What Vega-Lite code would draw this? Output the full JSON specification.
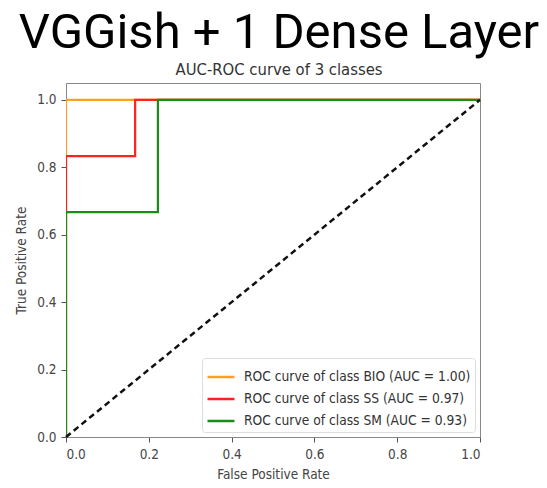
{
  "$schema": "https://vega.github.io/schema/vega-lite/v6.json",
  "width": 414,
  "height": 354,
  "autosize": {"type": "none"},
  "padding": {"left": 66, "top": 83, "right": 67, "bottom": 51},
  "background": "white",
  "title": {
    "text": "VGGish + 1 Dense Layer",
    "subtitle": "AUC-ROC curve of 3 classes",
    "anchor": "middle",
    "dx": 6,
    "font": "Roboto",
    "fontSize": 49,
    "fontWeight": "normal",
    "color": "#000000",
    "subtitleFont": "DejaVu Sans Condensed",
    "subtitleFontSize": 16.5,
    "subtitleColor": "#333333",
    "subtitlePadding": 4,
    "offset": 5
  },
  "config": {
    "view": {"stroke": "#888888", "strokeWidth": 1},
    "axis": {
      "grid": false,
      "domainColor": "#888888",
      "tickColor": "#555555",
      "tickSize": 5,
      "labelFont": "DejaVu Sans Condensed",
      "labelFontSize": 13.5,
      "labelColor": "#444444",
      "titleFont": "DejaVu Sans Condensed",
      "titleFontSize": 13.5,
      "titleFontWeight": "normal",
      "titleColor": "#444444",
      "labelPadding": 5
    },
    "legend": {
      "labelFont": "DejaVu Sans Condensed",
      "labelFontSize": 13.7,
      "labelColor": "#333333",
      "labelLimit": 0
    }
  },
  "data": {
    "values": [
      {"label": "ROC curve of class BIO (AUC = 1.00)", "fpr": 0, "tpr": 0, "i": 0},
      {"label": "ROC curve of class BIO (AUC = 1.00)", "fpr": 0, "tpr": 1, "i": 1},
      {"label": "ROC curve of class BIO (AUC = 1.00)", "fpr": 1, "tpr": 1, "i": 2},
      {"label": "ROC curve of class SS (AUC = 0.97)", "fpr": 0, "tpr": 0, "i": 0},
      {"label": "ROC curve of class SS (AUC = 0.97)", "fpr": 0, "tpr": 0.833, "i": 1},
      {"label": "ROC curve of class SS (AUC = 0.97)", "fpr": 0.167, "tpr": 0.833, "i": 2},
      {"label": "ROC curve of class SS (AUC = 0.97)", "fpr": 0.167, "tpr": 1, "i": 3},
      {"label": "ROC curve of class SS (AUC = 0.97)", "fpr": 1, "tpr": 1, "i": 4},
      {"label": "ROC curve of class SM (AUC = 0.93)", "fpr": 0, "tpr": 0, "i": 0},
      {"label": "ROC curve of class SM (AUC = 0.93)", "fpr": 0, "tpr": 0.667, "i": 1},
      {"label": "ROC curve of class SM (AUC = 0.93)", "fpr": 0.222, "tpr": 0.667, "i": 2},
      {"label": "ROC curve of class SM (AUC = 0.93)", "fpr": 0.222, "tpr": 1, "i": 3},
      {"label": "ROC curve of class SM (AUC = 0.93)", "fpr": 1, "tpr": 1, "i": 4}
    ]
  },
  "layer": [
    {
      "mark": {"type": "line", "strokeWidth": 2.2, "clip": true},
      "encoding": {
        "x": {
          "field": "fpr", "type": "quantitative",
          "scale": {"domain": [0, 1], "nice": false, "zero": false},
          "axis": {"title": "False Positive Rate", "values": [0, 0.2, 0.4, 0.6, 0.8, 1.0], "format": ".1f", "titlePadding": 7}
        },
        "y": {
          "field": "tpr", "type": "quantitative",
          "scale": {"domain": [0, 1.05], "nice": false, "zero": false},
          "axis": {"title": "True Positive Rate", "values": [0, 0.2, 0.4, 0.6, 0.8, 1.0], "format": ".1f", "titlePadding": 8}
        },
        "color": {
          "field": "label", "type": "nominal",
          "scale": {
            "domain": ["ROC curve of class BIO (AUC = 1.00)", "ROC curve of class SS (AUC = 0.97)", "ROC curve of class SM (AUC = 0.93)"],
            "range": ["#ffa020", "#ff2020", "#1a8c1a"]
          },
          "legend": {
            "title": null,
            "orient": "bottom-right",
            "offset": 5,
            "symbolType": "stroke",
            "symbolSize": 729,
            "symbolStrokeWidth": 2.5,
            "rowPadding": -2,
            "labelOffset": 8,
            "fillColor": "white",
            "strokeColor": "#dddddd",
            "padding": 4,
            "cornerRadius": 3
          }
        },
        "order": {"field": "i", "type": "quantitative"}
      }
    },
    {
      "data": {"values": [{"fpr": 0, "tpr": 0}, {"fpr": 1, "tpr": 1}]},
      "mark": {"type": "line", "color": "#111111", "strokeWidth": 2.5, "strokeDash": [6, 4]},
      "encoding": {
        "x": {"field": "fpr", "type": "quantitative"},
        "y": {"field": "tpr", "type": "quantitative"}
      }
    }
  ]
}
